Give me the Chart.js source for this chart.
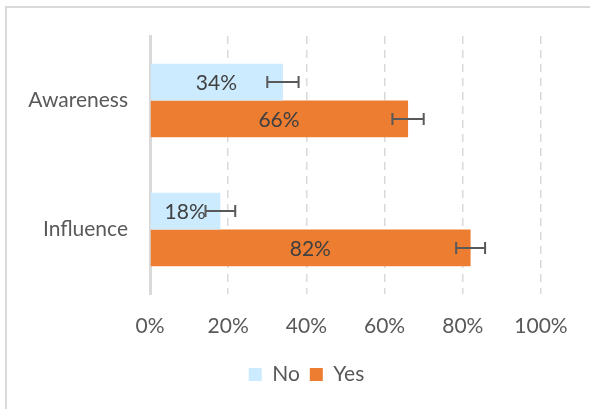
<!DOCTYPE html>
<html>
<head>
<meta charset="utf-8">
<script src="https://cdn.jsdelivr.net/npm/chart.js@4.4.0/dist/chart.umd.min.js"></script>
<style>
  html, body { margin: 0; padding: 0; background: #fff; }
  #wrap { position: relative; width: 590px; height: 409px; }
</style>
</head>
<body>
<div id="wrap"><canvas id="mainChart" width="590" height="409"></canvas></div>
<script>
const categories = ["Awareness", "Influence"];
const noValues = [34, 18];
const yesValues = [66, 82];
const noErrors = [4, 3.8];
const yesErrors = [4, 3.7];
const tickValues = [0, 20, 40, 60, 80, 100];

const textColor = "#595959";
const fontFamily = "Lato, 'Open Sans', sans-serif";

// frame + value labels + error bars
const extrasPlugin = {
  id: "extras",
  afterLayout(chart) {
    // legend sits centred under the whole frame, not just the plot
    if (chart.legend) {
      chart.legend.left += 36;
      chart.legend.right += 36;
    }
  },
  beforeDraw(chart) {
    const ctx = chart.ctx;
    ctx.save();
    ctx.fillStyle = "#fff";
    ctx.fillRect(0, 0, chart.width, chart.height);
    ctx.strokeStyle = "#D9D9D9";
    ctx.lineWidth = 2;
    ctx.beginPath();
    ctx.moveTo(6, chart.height);
    ctx.lineTo(6, 7);
    ctx.lineTo(chart.width, 7);
    ctx.stroke();
    ctx.restore();
  },
  afterDatasetsDraw(chart) {
    const ctx = chart.ctx;
    const xs = chart.scales.x;
    const errs = [noErrors, yesErrors];
    ctx.save();
    chart.data.datasets.forEach((ds, di) => {
      const meta = chart.getDatasetMeta(di);
      meta.data.forEach((bar, i) => {
        const v = ds.data[i];
        const x0 = xs.getPixelForValue(0);
        const x1 = xs.getPixelForValue(v);
        // label
        ctx.fillStyle = "#404040";
        ctx.font = "21px " + fontFamily;
        ctx.textAlign = "center";
        ctx.textBaseline = "middle";
        ctx.fillText(v + "%", (x0 + x1) / 2, bar.y + 1);
        // error bar
        const lo = xs.getPixelForValue(v - errs[di][i]);
        const hi = xs.getPixelForValue(v + errs[di][i]);
        ctx.strokeStyle = "#595959";
        ctx.lineWidth = 2;
        ctx.beginPath();
        ctx.moveTo(lo, bar.y);
        ctx.lineTo(hi, bar.y);
        ctx.moveTo(lo, bar.y - 6);
        ctx.lineTo(lo, bar.y + 6);
        ctx.moveTo(hi, bar.y - 6);
        ctx.lineTo(hi, bar.y + 6);
        ctx.stroke();
      });
    });
    ctx.restore();
  }
};

const ctx = document.getElementById("mainChart").getContext("2d");
new Chart(ctx, {
  type: "bar",
  data: {
    labels: categories,
    datasets: [
      {
        label: "No",
        data: noValues,
        backgroundColor: "#CCEBFF",
        categoryPercentage: 0.57,
        barPercentage: 1.0
      },
      {
        label: "Yes",
        data: yesValues,
        backgroundColor: "#ED7D31",
        categoryPercentage: 0.57,
        barPercentage: 1.0
      }
    ]
  },
  options: {
    indexAxis: "y",
    responsive: false,
    animation: false,
    layout: { padding: { top: 36, right: 49, bottom: 14, left: 0 } },
    scales: {
      x: {
        min: 0,
        max: 100,
        afterBuildTicks: (s) => { s.ticks = tickValues.map((v) => ({ value: v })); },
        afterFit: (s) => { s.height = 60; },
        grid: {
          color: "#D9D9D9",
          lineWidth: 1.5,
          drawTicks: false
        },
        border: { display: false, dash: [8, 6] },
        ticks: {
          padding: 20,
          color: textColor,
          font: { family: fontFamily, size: 21 },
          callback: (v) => v + "%"
        }
      },
      y: {
        afterFit: (s) => { s.width = 150; },
        grid: { display: false, drawTicks: false },
        border: { display: true, color: "#D9D9D9", width: 3 },
        ticks: {
          padding: 22,
          color: textColor,
          font: { family: fontFamily, size: 21 }
        }
      }
    },
    plugins: {
      legend: {
        position: "bottom",
        labels: {
          boxWidth: 13,
          boxHeight: 13,
          padding: 10,
          color: textColor,
          font: { family: fontFamily, size: 21 }
        }
      },
      tooltip: { enabled: false }
    }
  },
  plugins: [extrasPlugin]
});
</script>
</body>
</html>
